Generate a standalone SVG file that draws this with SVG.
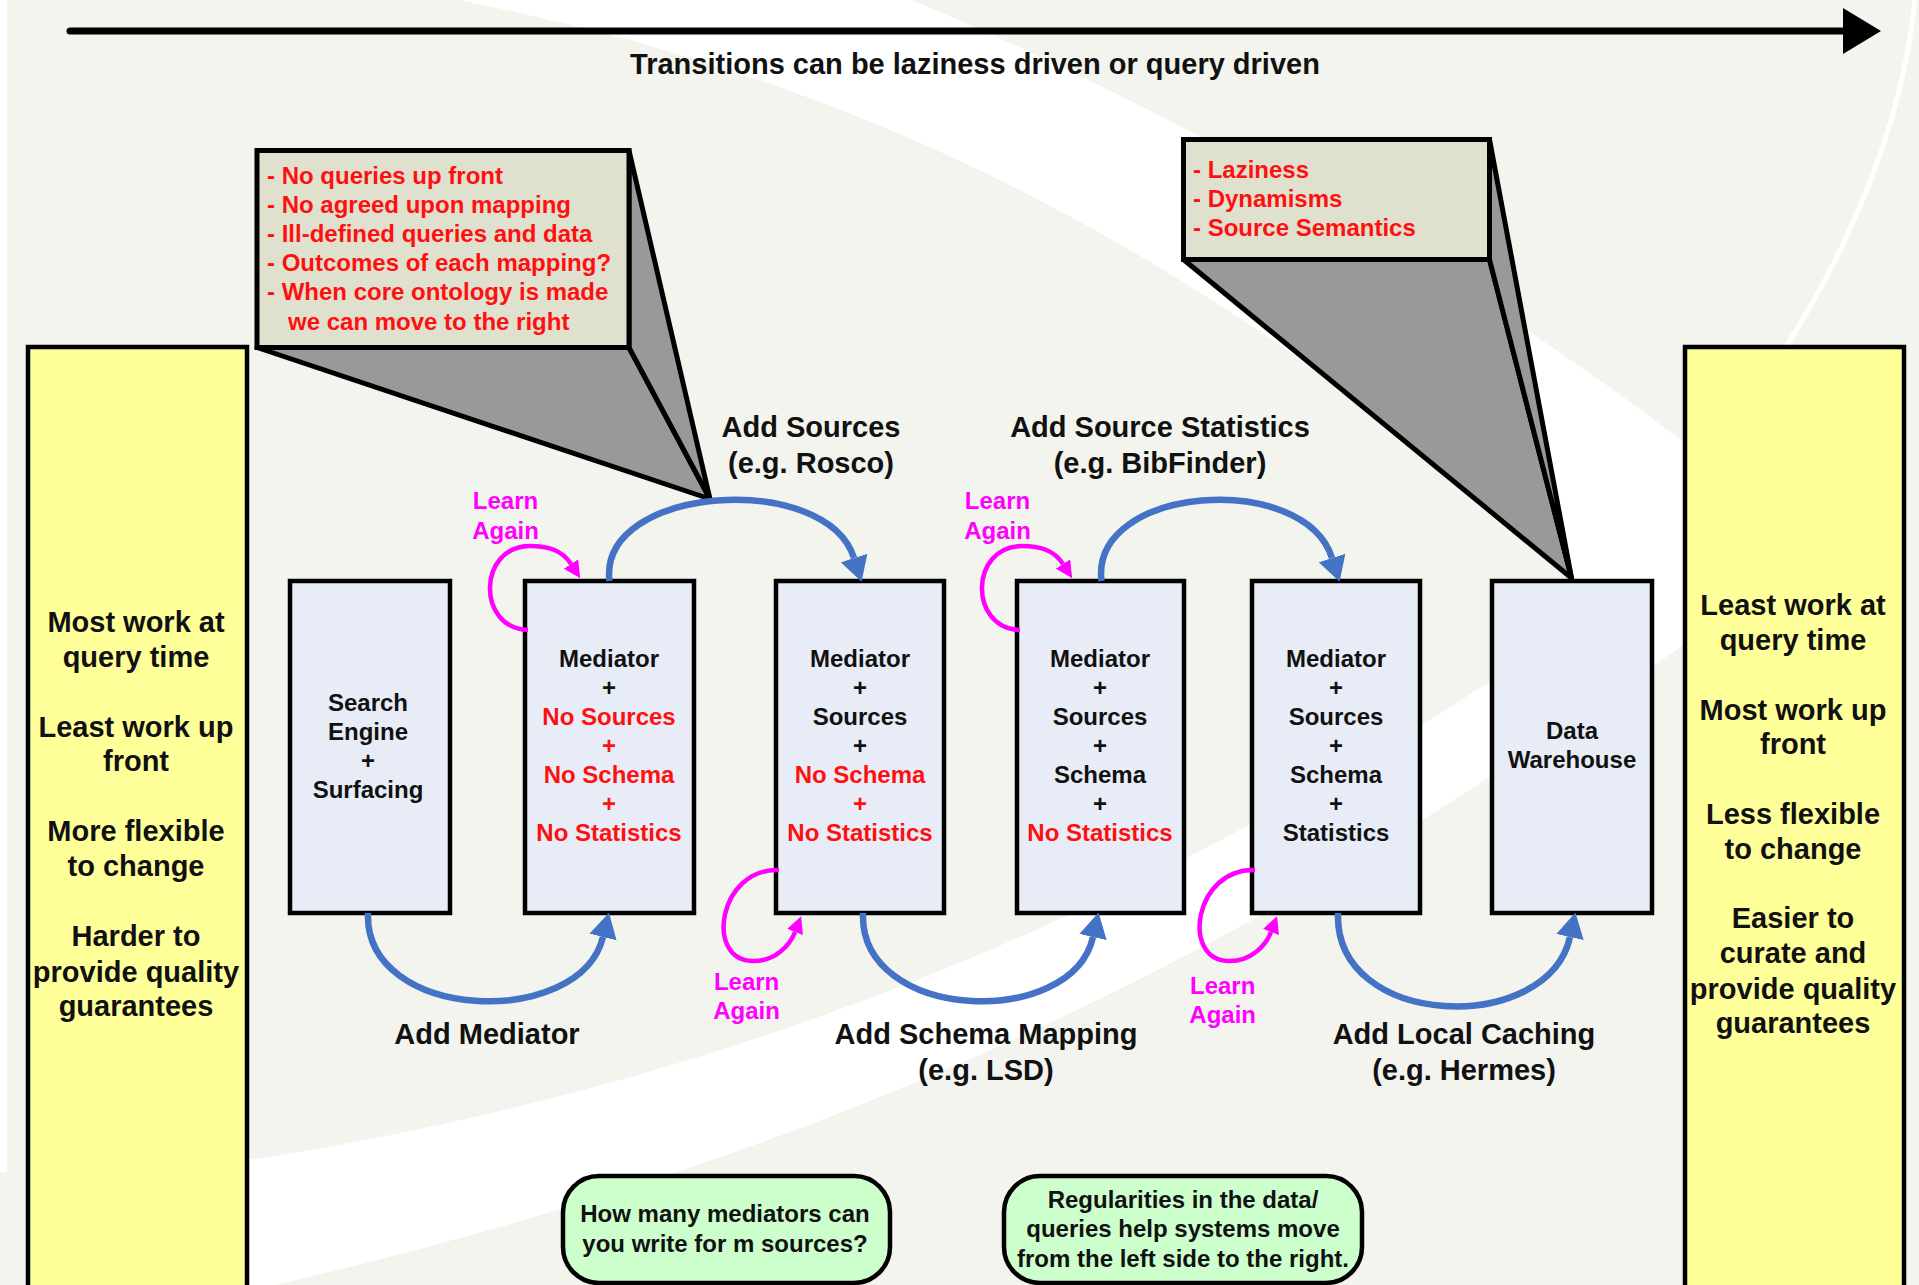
<svg xmlns="http://www.w3.org/2000/svg" width="1919" height="1285" viewBox="0 0 1919 1285">
  <defs>
    <style>
      text { font-family: "Liberation Sans", Arial, sans-serif; font-weight: bold; text-anchor: middle; }
      .t29 { font-size: 29px; fill: #111; }
      .t24 { font-size: 24px; fill: #111; }
      .red { fill: #ff1010; }
      .mag { font-size: 24px; fill: #ff00ff; }
      .note { font-size: 24px; fill: #ff1010; text-anchor: start; }
      .side { fill: #ffff99; stroke: #000; stroke-width: 4.5; }
      .stage { fill: #e8ecf6; stroke: #000; stroke-width: 4.5; }
      .cbox { fill: #dfe0cd; stroke: #000; stroke-width: 5; }
      .wedge { fill: #999999; stroke: #000; stroke-width: 5; stroke-linejoin: round; }
      .q { fill: #ccffcc; stroke: #000; stroke-width: 4.5; }
      .flow { fill: none; stroke: #4472c4; stroke-width: 6.5; marker-end: url(#headBlue); }
      .loop { fill: none; stroke: #ff00ff; stroke-width: 4.5; marker-end: url(#headMag); }
      .swoosh { fill: #ffffff; }
    </style>
    <marker id="headBlue" markerUnits="userSpaceOnUse" markerWidth="25" markerHeight="28" viewBox="0 0 25 28" refX="0" refY="14" orient="auto">
      <path d="M0,0 L25,14 L0,28 Z" fill="#4472c4"/>
    </marker>
    <marker id="headMag" markerUnits="userSpaceOnUse" markerWidth="17" markerHeight="17" viewBox="0 0 17 17" refX="0" refY="8.5" orient="auto">
      <path d="M0,0 L17,8.5 L0,17 Z" fill="#ff00ff"/>
    </marker>
    <marker id="headTop" markerUnits="userSpaceOnUse" markerWidth="38" markerHeight="46" viewBox="0 0 38 46" refX="0" refY="23" orient="auto">
      <path d="M0,0 L38,23 L0,46 Z" fill="#000"/>
    </marker>
  </defs>

  <!-- backdrop with light sweeping bands -->
  <rect x="0" y="0" width="1919" height="1285" fill="#f2f4ed"/>
  <rect x="0" y="0" width="7" height="1172" class="swoosh"/>
  <path class="swoosh" d="M 459 0 L 912 0 C 1150 100 1450 260 1700 455 L 1700 640 L 1600 600 C 1200 240 859 80 459 0 Z"/>
  <path class="swoosh" d="M 248 1160 C 640 1100 1150 950 1690 540 L 1690 640 C 1300 920 900 1140 275 1285 L 248 1285 Z"/>
  <path d="M 1915 0 C 1900 150 1820 330 1690 470" fill="none" stroke="#ffffff" stroke-width="5"/>

  <!-- direction of travel -->
  <g id="timeline">
    <line x1="70" y1="31" x2="1843" y2="31" stroke="#000" stroke-width="7" stroke-linecap="round" marker-end="url(#headTop)"/>
    <text class="t29" x="975" y="74">Transitions can be laziness driven or query driven</text>
  </g>

  <!-- left and right extremes -->
  <g id="left-extreme">
    <rect class="side" x="28" y="347" width="219" height="945"/>
    <text class="t29" x="136" y="632">Most work at</text>
    <text class="t29" x="136" y="667">query time</text>
    <text class="t29" x="136" y="737">Least work up</text>
    <text class="t29" x="136" y="771">front</text>
    <text class="t29" x="136" y="841">More flexible</text>
    <text class="t29" x="136" y="876">to change</text>
    <text class="t29" x="136" y="946">Harder to</text>
    <text class="t29" x="136" y="982">provide quality</text>
    <text class="t29" x="136" y="1016">guarantees</text>
  </g>
  <g id="right-extreme">
    <rect class="side" x="1685" y="347" width="219" height="945"/>
    <text class="t29" x="1793" y="615">Least work at</text>
    <text class="t29" x="1793" y="650">query time</text>
    <text class="t29" x="1793" y="720">Most work up</text>
    <text class="t29" x="1793" y="754">front</text>
    <text class="t29" x="1793" y="824">Less flexible</text>
    <text class="t29" x="1793" y="859">to change</text>
    <text class="t29" x="1793" y="928">Easier to</text>
    <text class="t29" x="1793" y="963">curate and</text>
    <text class="t29" x="1793" y="999">provide quality</text>
    <text class="t29" x="1793" y="1033">guarantees</text>
  </g>

  <!-- callouts -->
  <g id="callout-left">
    <polygon class="wedge" points="257,347.5 629,347.5 710,499"/>
    <polygon class="wedge" points="629,150.5 629,347.5 710,499"/>
    <rect class="cbox" x="257" y="150.5" width="372" height="197"/>
    <text class="note" x="267" y="183.5">- No queries up front</text>
    <text class="note" x="267" y="212.7">- No agreed upon mapping</text>
    <text class="note" x="267" y="241.9">- Ill-defined queries and data</text>
    <text class="note" x="267" y="271.1">- Outcomes of each mapping?</text>
    <text class="note" x="267" y="300.3">- When core ontology is made</text>
    <text class="note" x="288" y="329.5">we can move to the right</text>
  </g>
  <g id="callout-right">
    <polygon class="wedge" points="1183.5,259.5 1489.5,259.5 1571.5,578"/>
    <polygon class="wedge" points="1489.5,139.5 1489.5,259.5 1571.5,578"/>
    <rect class="cbox" x="1183.5" y="139.5" width="306" height="120"/>
    <text class="note" x="1193" y="177.5">- Laziness</text>
    <text class="note" x="1193" y="206.8">- Dynamisms</text>
    <text class="note" x="1193" y="236">- Source Semantics</text>
  </g>

  <!-- stages -->
  <g id="search-engine">
    <rect class="stage" x="290" y="581" width="160" height="332"/>
    <text class="t24" x="368" y="711">Search</text>
    <text class="t24" x="368" y="740">Engine</text>
    <text class="t24" x="368" y="769">+</text>
    <text class="t24" x="368" y="798">Surfacing</text>
  </g>
  <g id="mediator-no-sources">
    <rect class="stage" x="525" y="581" width="169" height="332"/>
    <text class="t24" x="609" y="667">Mediator</text>
    <text class="t24" x="609" y="696">+</text>
    <text class="t24 red" x="609" y="725">No Sources</text>
    <text class="t24 red" x="609" y="754">+</text>
    <text class="t24 red" x="609" y="783">No Schema</text>
    <text class="t24 red" x="609" y="812">+</text>
    <text class="t24 red" x="609" y="841">No Statistics</text>
  </g>
  <g id="mediator-sources">
    <rect class="stage" x="776" y="581" width="168" height="332"/>
    <text class="t24" x="860" y="667">Mediator</text>
    <text class="t24" x="860" y="696">+</text>
    <text class="t24" x="860" y="725">Sources</text>
    <text class="t24" x="860" y="754">+</text>
    <text class="t24 red" x="860" y="783">No Schema</text>
    <text class="t24 red" x="860" y="812">+</text>
    <text class="t24 red" x="860" y="841">No Statistics</text>
  </g>
  <g id="mediator-schema">
    <rect class="stage" x="1017" y="581" width="167" height="332"/>
    <text class="t24" x="1100" y="667">Mediator</text>
    <text class="t24" x="1100" y="696">+</text>
    <text class="t24" x="1100" y="725">Sources</text>
    <text class="t24" x="1100" y="754">+</text>
    <text class="t24" x="1100" y="783">Schema</text>
    <text class="t24" x="1100" y="812">+</text>
    <text class="t24 red" x="1100" y="841">No Statistics</text>
  </g>
  <g id="mediator-statistics">
    <rect class="stage" x="1252" y="581" width="168" height="332"/>
    <text class="t24" x="1336" y="667">Mediator</text>
    <text class="t24" x="1336" y="696">+</text>
    <text class="t24" x="1336" y="725">Sources</text>
    <text class="t24" x="1336" y="754">+</text>
    <text class="t24" x="1336" y="783">Schema</text>
    <text class="t24" x="1336" y="812">+</text>
    <text class="t24" x="1336" y="841">Statistics</text>
  </g>
  <g id="data-warehouse">
    <rect class="stage" x="1492" y="581" width="160" height="332"/>
    <text class="t24" x="1572" y="739">Data</text>
    <text class="t24" x="1572" y="768">Warehouse</text>
  </g>

  <!-- transitions between stages -->
  <g id="connectors">
    <path class="flow" d="M 368 913 C 364 1022 580 1030 603 937"/>
    <path class="flow" d="M 609.5 581 C 598 485 826 470 854 558"/>
    <path class="flow" d="M 863 913 C 859 1022 1072 1030 1093 937"/>
    <path class="flow" d="M 1101.5 581 C 1090 485 1304 470 1332 558"/>
    <path class="flow" d="M 1338 913 C 1334 1030 1548 1036 1570 937"/>

    <path class="loop" d="M 528 630 C 476 628 478 546 530 546 C 548 546 562 550 571 564"/>
    <path class="loop" d="M 1020 630 C 968 628 970 546 1022 546 C 1040 546 1054 550 1063 564"/>
    <path class="loop" d="M 779 870 C 718 868 705 960 752 961 C 775 962 790 945 795 932"/>
    <path class="loop" d="M 1255 870 C 1194 868 1181 960 1228 961 C 1251 962 1266 945 1271 932"/>
  </g>

  <!-- transition labels -->
  <g id="labels">
    <text class="t29" x="811" y="437">Add Sources</text>
    <text class="t29" x="811" y="472.6">(e.g. Rosco)</text>
    <text class="t29" x="1160" y="437">Add Source Statistics</text>
    <text class="t29" x="1160" y="472.6">(e.g. BibFinder)</text>
    <text class="t29" x="487" y="1044">Add Mediator</text>
    <text class="t29" x="986" y="1044">Add Schema Mapping</text>
    <text class="t29" x="986" y="1079.7">(e.g. LSD)</text>
    <text class="t29" x="1464" y="1044">Add Local Caching</text>
    <text class="t29" x="1464" y="1079.7">(e.g. Hermes)</text>

    <text class="mag" x="505.5" y="509">Learn</text>
    <text class="mag" x="505.5" y="538.5">Again</text>
    <text class="mag" x="997.5" y="509">Learn</text>
    <text class="mag" x="997.5" y="538.5">Again</text>
    <text class="mag" x="746.6" y="990">Learn</text>
    <text class="mag" x="746.6" y="1019.4">Again</text>
    <text class="mag" x="1222.7" y="993.6">Learn</text>
    <text class="mag" x="1222.7" y="1023">Again</text>
  </g>

  <!-- open questions -->
  <g id="question-mediators">
    <rect class="q" x="563" y="1176" width="327" height="107" rx="36" ry="36"/>
    <text class="t24" x="725" y="1222.4">How many mediators can</text>
    <text class="t24" x="725" y="1252">you write for m sources?</text>
  </g>
  <g id="question-regularities">
    <rect class="q" x="1004" y="1176" width="358" height="107" rx="36" ry="36"/>
    <text class="t24" x="1183" y="1207.8">Regularities in the data/</text>
    <text class="t24" x="1183" y="1237.2">queries help systems move</text>
    <text class="t24" x="1183" y="1266.6">from the left side to the right.</text>
  </g>
</svg>
